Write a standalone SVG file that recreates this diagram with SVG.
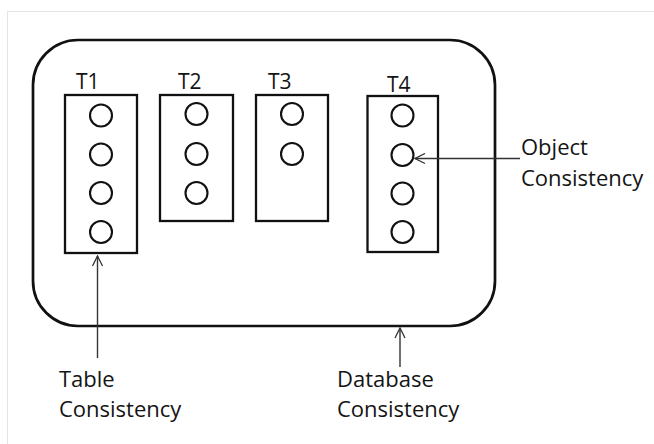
<svg xmlns="http://www.w3.org/2000/svg" width="654" height="444" viewBox="0 0 654 444">
  <defs>
    <marker id="open-arrow" viewBox="0 0 12 12" refX="11" refY="6" markerWidth="12" markerHeight="12" markerUnits="userSpaceOnUse" orient="auto">
      <path d="M1,1 L11,6 L1,11" fill="none" stroke="#333" stroke-width="1.3"/>
    </marker>
  </defs>
  <style>
    .frame { fill: #fff; stroke: #e4e4e4; stroke-width: 1; }
    .db { fill: none; stroke: #111; stroke-width: 2.7; }
    .table { fill: #fff; stroke: #111; stroke-width: 2.3; }
    .obj { fill: #fff; stroke: #111; stroke-width: 2.1; }
    .lbl { font-family: "Open Sans", "Liberation Sans", sans-serif; font-size: 21px; fill: #141414; }
    .note { font-family: "Open Sans", "Liberation Sans", sans-serif; font-size: 22px; fill: #141414; }
    .conn { stroke: #333; stroke-width: 1.4; fill: none; marker-end: url(#open-arrow); }
  </style>

  <rect width="654" height="444" fill="#fff"/>
  <rect class="frame" x="7.5" y="11.5" width="660" height="450"/>

  <!-- database boundary -->
  <g id="database">
    <rect class="db" x="33" y="40" width="462" height="286" rx="45" ry="45"/>
  </g>

  <g id="t1">
    <text class="lbl" x="76" y="89">T1</text>
    <rect class="table" x="65" y="95" width="72" height="158"/>
    <circle class="obj" cx="101" cy="115.5" r="11"/>
    <circle class="obj" cx="101" cy="154.5" r="11"/>
    <circle class="obj" cx="101" cy="193" r="11"/>
    <circle class="obj" cx="101" cy="232" r="11"/>
  </g>

  <g id="t2">
    <text class="lbl" x="178" y="89">T2</text>
    <rect class="table" x="160" y="95" width="73" height="126"/>
    <circle class="obj" cx="196.5" cy="114" r="11"/>
    <circle class="obj" cx="196.5" cy="154" r="11"/>
    <circle class="obj" cx="196.5" cy="193" r="11"/>
  </g>

  <g id="t3">
    <text class="lbl" x="268" y="89">T3</text>
    <rect class="table" x="256" y="95" width="72" height="126"/>
    <circle class="obj" cx="292" cy="114" r="11"/>
    <circle class="obj" cx="292" cy="154" r="11"/>
  </g>

  <g id="t4">
    <text class="lbl" x="387" y="91.5">T4</text>
    <rect class="table" x="367.5" y="96" width="70.5" height="156"/>
    <circle class="obj" cx="402.5" cy="115.5" r="11"/>
    <circle class="obj" cx="402.5" cy="155" r="11"/>
    <circle class="obj" cx="402.5" cy="193.5" r="11"/>
    <circle class="obj" cx="402.5" cy="232" r="11"/>
  </g>

  <g id="connectors">
    <line class="conn" x1="520" y1="158.5" x2="415" y2="158.5"/>
    <line class="conn" x1="97.5" y1="358" x2="97.5" y2="256"/>
    <line class="conn" x1="400" y1="367" x2="400" y2="328"/>
  </g>

  <g id="object-consistency">
    <text class="note" x="521" y="155">Object</text>
    <text class="note" x="521" y="186">Consistency</text>
  </g>
  <g id="table-consistency">
    <text class="note" x="59" y="387">Table</text>
    <text class="note" x="59" y="417">Consistency</text>
  </g>
  <g id="database-consistency">
    <text class="note" x="337" y="387">Database</text>
    <text class="note" x="337" y="417">Consistency</text>
  </g>
</svg>
